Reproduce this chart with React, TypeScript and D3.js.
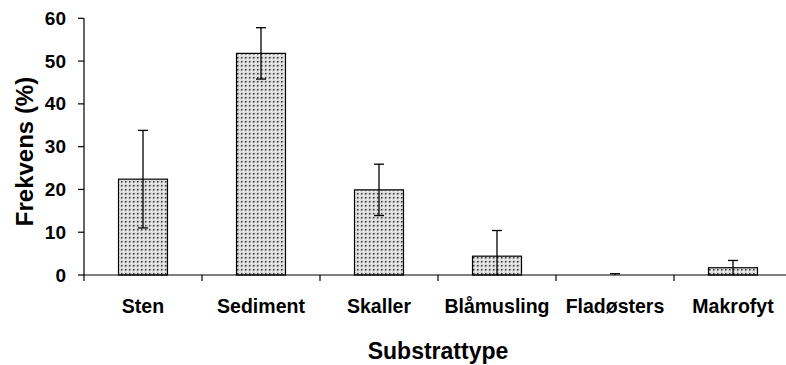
import React from "react";
import * as d3 from "d3";

const categories = ["Sten", "Sediment", "Skaller", "Blåmusling", "Fladøsters", "Makrofyt"];
const frequency = [22.4, 51.8, 19.9, 4.4, 0, 1.7];
const errors = [11.4, 6.0, 6.0, 6.0, 0.3, 1.7];
const yTicks = [0, 10, 20, 30, 40, 50, 60];
const yTitle = "Frekvens (%)";
const xTitle = "Substrattype";

const W = 786;
const H = 365;
const FONT = "'Liberation Sans', Arial, sans-serif";

export default function App() {
  const left = 84;
  const right = 792;
  const top = 18.3;
  const bottom = 275;

  const x = d3
    .scaleBand<string>()
    .domain(categories)
    .range([left, right])
    .paddingInner(0.585)
    .paddingOuter(0.2925);
  const y = d3.scaleLinear().domain([0, 60]).range([bottom, top]);
  const step = x.step();
  const bw = x.bandwidth();

  return (
    <svg
      width={W}
      height={H}
      style={{ position: "absolute", left: 0, top: 0, background: "#fff" }}
      fontFamily={FONT}
      fontWeight="bold"
    >
      <defs>
        <pattern id="dots" width={4} height={4} patternUnits="userSpaceOnUse">
          <rect width={4} height={4} fill="#dcdcdc" />
          <rect x={1} y={1} width={1.5} height={1.5} fill="#333" />
          <rect x={3} y={3} width={1} height={1} fill="#ffffff" />
        </pattern>
      </defs>

      {/* bars */}
      {categories.map((c, i) => {
        const h = bottom - y(frequency[i]);
        return (
          <rect
            key={c}
            x={x(c)!}
            y={y(frequency[i])}
            width={bw}
            height={h}
            fill="url(#dots)"
            stroke="#000"
            strokeWidth={1.2}
          />
        );
      })}

      {/* error bars */}
      {categories.map((c, i) => {
        const cx = x(c)! + bw / 2;
        const hi = y(frequency[i] + errors[i]);
        const lo = y(Math.max(0, frequency[i] - errors[i]));
        return (
          <g key={c} stroke="#000" strokeWidth={1.3}>
            <line x1={cx} x2={cx} y1={hi} y2={lo} />
            <line x1={cx - 5} x2={cx + 5} y1={hi} y2={hi} />
            {frequency[i] - errors[i] > 0 && (
              <line x1={cx - 5} x2={cx + 5} y1={lo} y2={lo} />
            )}
          </g>
        );
      })}

      {/* y axis */}
      <line x1={left} x2={left} y1={top} y2={bottom} stroke="#000" strokeWidth={1.2} />
      {yTicks.map((t) => (
        <g key={t}>
          <line x1={left - 6} x2={left} y1={y(t)} y2={y(t)} stroke="#000" strokeWidth={1.2} />
          <text x={66} y={y(t) + 6.5} textAnchor="end" fontSize={19}>
            {t}
          </text>
        </g>
      ))}

      {/* x axis */}
      <line x1={left} x2={right} y1={bottom} y2={bottom} stroke="#000" strokeWidth={1.2} />
      {d3.range(categories.length + 1).map((k) => (
        <line
          key={k}
          x1={left + k * step}
          x2={left + k * step}
          y1={bottom}
          y2={bottom + 6}
          stroke="#000"
          strokeWidth={1.2}
        />
      ))}
      {categories.map((c) => (
        <text key={c} x={x(c)! + bw / 2} y={313} textAnchor="middle" fontSize={19.5}>
          {c}
        </text>
      ))}

      <text x={438} y={359} textAnchor="middle" fontSize={23}>
        {xTitle}
      </text>
      <text transform="translate(33,151.5) rotate(-90)" textAnchor="middle" fontSize={24}>
        {yTitle}
      </text>
    </svg>
  );
}
